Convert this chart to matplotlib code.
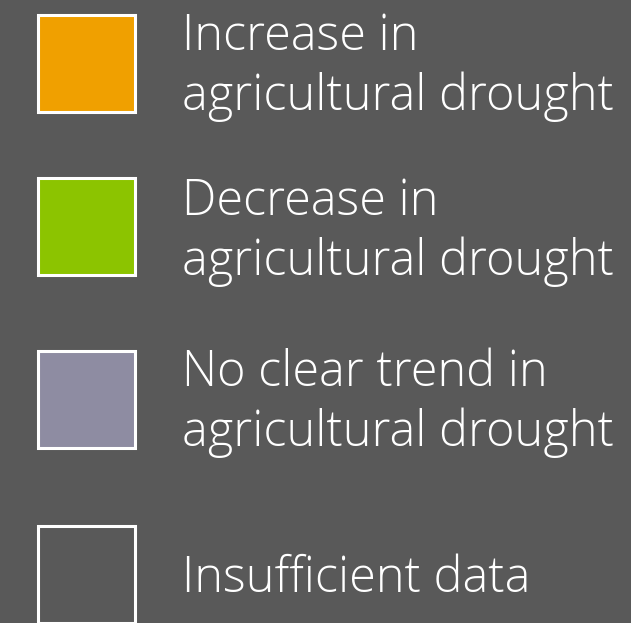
import matplotlib
matplotlib.use("Agg")
import matplotlib.pyplot as plt
from matplotlib.patches import Rectangle

labels = [
    "Increase in\nagricultural drought",
    "Decrease in\nagricultural drought",
    "No clear trend in\nagricultural drought",
    "Insufficient data",
]
colors = ["#F0A000", "#8CC400", "#8E8CA2", "#595959"]
box_tops = [13, 176, 349, 524]
first_baselines = [50, 215, 386, 592]

BG = "#595959"
W, H = 631, 623
fig = plt.figure(figsize=(W / 100, H / 100), dpi=100, facecolor=BG)
ax = fig.add_axes([0, 0, 1, 1])
ax.set_facecolor(BG)
ax.set_xlim(0, W)
ax.set_ylim(H, 0)
ax.axis("off")

for lab, col, top, base in zip(labels, colors, box_tops, first_baselines):
    ax.add_patch(Rectangle((37.5, top + 1.5), 97, 97, facecolor=col,
                           edgecolor="white", linewidth=2.2))
    for i, line in enumerate(lab.split("\n")):
        ax.text(182, base + 60 * i, line, color="white", fontsize=35,
                family="Open Sans", weight="light", va="baseline", ha="left")

fig.savefig("out.png", dpi=100, facecolor=BG)
